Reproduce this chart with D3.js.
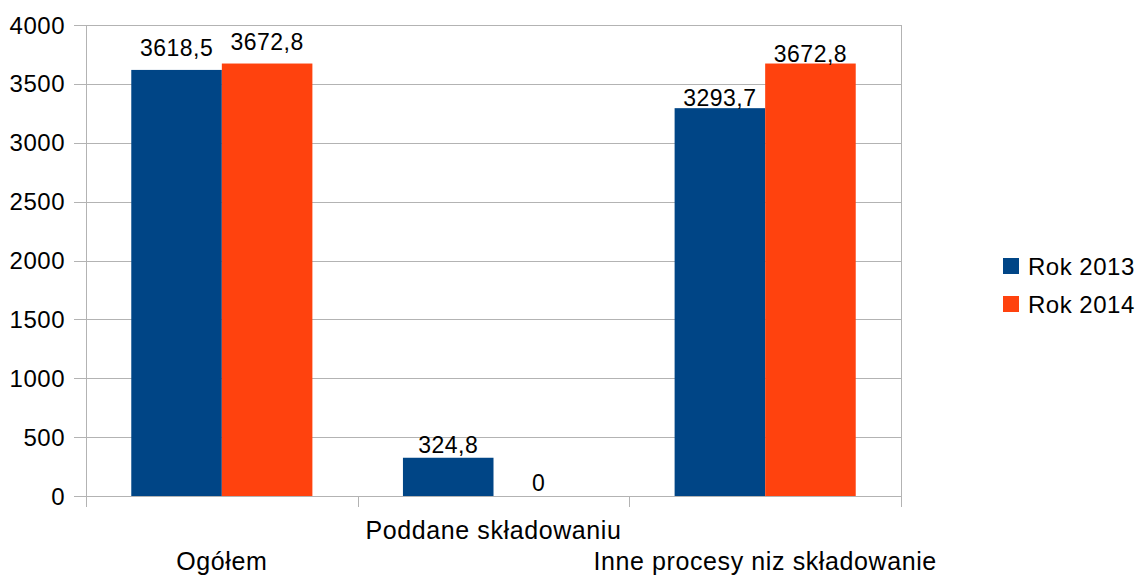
<!DOCTYPE html>
<html>
<head>
<meta charset="utf-8">
<script src="https://cdn.jsdelivr.net/npm/d3@7"></script>
<style>
  body { margin: 0; background: #fff; }
  text { font-family: 'Liberation Sans', Arial, sans-serif; fill: #000; }
</style>
</head>
<body>
<div id="chart"></div>
<script>
const categories = ['Ogółem', 'Poddane składowaniu', 'Inne procesy niz składowanie']
const seriesNames = ['Rok 2013', 'Rok 2014']
const values2013 = [3618.5, 324.8, 3293.7]
const values2014 = [3672.8, 0, 3672.8]
const yTicks = [0, 500, 1000, 1500, 2000, 2500, 3000, 3500, 4000]

const colors = ['#004586', '#ff420e']
const W = 1140
const H = 576
const margin = { top: 25, right: 239, bottom: 80, left: 86 }
const width = W - margin.left - margin.right
const height = H - margin.top - margin.bottom

const svg = d3.select('#chart')
  .append('svg')
  .attr('width', W)
  .attr('height', H)

const g = svg.append('g')
  .attr('transform', `translate(${margin.left},${margin.top})`)

const x = d3.scaleBand().domain(categories).range([0, width]).paddingInner(0).paddingOuter(0)
const x1 = d3.scaleBand().domain(seriesNames).range([x.bandwidth() / 6, x.bandwidth() * 5 / 6])
const y = d3.scaleLinear().domain([0, 4000]).range([height, 0])

// gridlines
g.selectAll('.grid')
  .data(yTicks)
  .enter()
  .append('line')
  .attr('x1', -12)
  .attr('x2', width)
  .attr('y1', d => Math.round(y(d)) + 0.5)
  .attr('y2', d => Math.round(y(d)) + 0.5)
  .attr('stroke', '#b3b3b3')
  .attr('stroke-width', 1)

// vertical axis lines / ticks
const boundaries = [0].concat(categories.map(c => x(c) + x.bandwidth()))
g.selectAll('.vtick')
  .data(boundaries)
  .enter()
  .append('line')
  .attr('x1', d => Math.round(d) + 0.5)
  .attr('x2', d => Math.round(d) + 0.5)
  .attr('y1', (d, i) => (i === 0 || i === 3) ? 0 : height)
  .attr('y2', height + 11)
  .attr('stroke', '#b3b3b3')
  .attr('stroke-width', 1)

// y labels
g.selectAll('.ylabel')
  .data(yTicks)
  .enter()
  .append('text')
  .attr('x', -21)
  .attr('y', d => y(d) + 8.5)
  .attr('text-anchor', 'end')
  .attr('font-size', 24)
  .attr('letter-spacing', 0.5)
  .text(d => d)

const rows = categories.map((c, i) => ({ cat: c, vals: [values2013[i], values2014[i]] }))
const labelGap = [14, 5, 2]

const groups = g.selectAll('.grp')
  .data(rows)
  .enter()
  .append('g')
  .attr('transform', d => `translate(${x(d.cat)},0)`)

groups.selectAll('rect')
  .data(d => d.vals.map((v, j) => ({ v, j })))
  .enter()
  .append('rect')
  .attr('x', d => x1(seriesNames[d.j]))
  .attr('width', x1.bandwidth())
  .attr('y', d => y(d.v))
  .attr('height', d => height - y(d.v))
  .attr('fill', d => colors[d.j])

groups.selectAll('.val')
  .data((d, i) => d.vals.map((v, j) => ({ v, j, i })))
  .enter()
  .append('text')
  .attr('x', d => x1(seriesNames[d.j]) + x1.bandwidth() / 2)
  .attr('y', d => y(d.v) - labelGap[d.i])
  .attr('text-anchor', 'middle')
  .attr('font-size', 23)
  .attr('letter-spacing', 0.5)
  .text(d => String(d.v).replace('.', ','))

// category labels, staggered
g.selectAll('.cat')
  .data(categories)
  .enter()
  .append('text')
  .attr('x', d => x(d) + x.bandwidth() / 2)
  .attr('y', (d, i) => height + (i % 2 === 1 ? 43 : 74))
  .attr('text-anchor', 'middle')
  .attr('font-size', 25)
  .attr('letter-spacing', 0.6)
  .text(d => d)

// legend
const legend = svg.append('g')
  .attr('transform', 'translate(1003,258)')

legend.selectAll('rect')
  .data(seriesNames)
  .enter()
  .append('rect')
  .attr('x', 0)
  .attr('y', (d, i) => i * 38)
  .attr('width', 16)
  .attr('height', 16)
  .attr('fill', (d, i) => colors[i])

legend.selectAll('text')
  .data(seriesNames)
  .enter()
  .append('text')
  .attr('x', 25)
  .attr('y', (d, i) => i * 38 + 17)
  .attr('font-size', 24)
  .attr('letter-spacing', 0.5)
  .text(d => d)
</script>
</body>
</html>
